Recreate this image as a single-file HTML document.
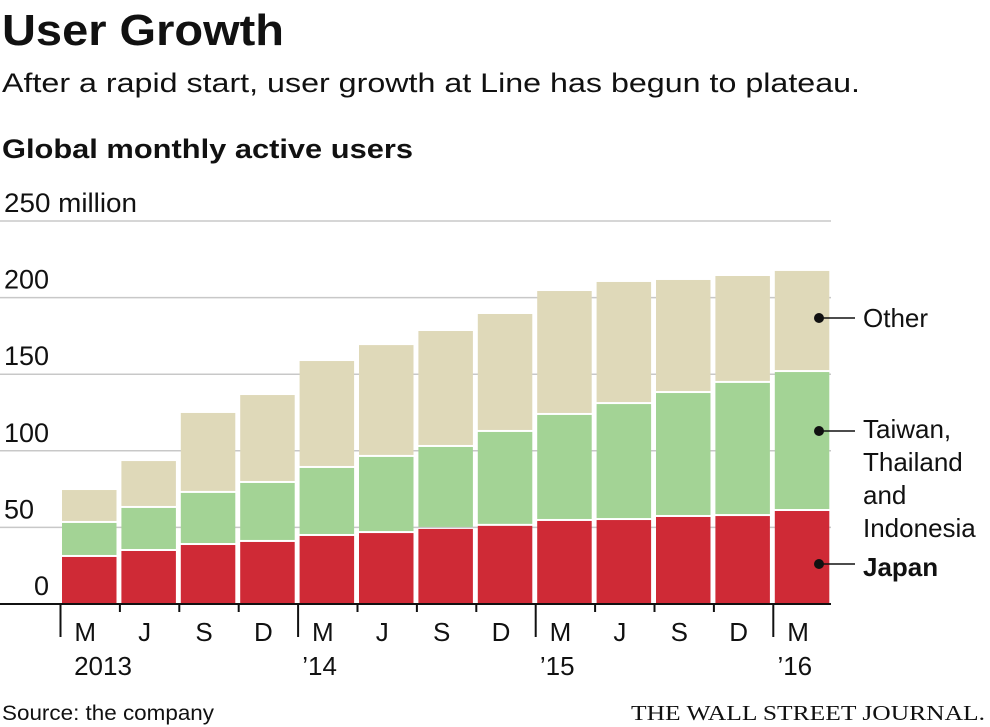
<!DOCTYPE html>
<html><head><meta charset="utf-8"><style>
html,body{margin:0;padding:0;background:#fff;}
svg{display:block;font-family:"Liberation Sans",sans-serif;}
</style></head><body>
<svg width="990" height="727" viewBox="0 0 990 727">
<text x="2" y="45" font-size="44" font-weight="bold" textLength="282" lengthAdjust="spacingAndGlyphs" fill="#111">User Growth</text>
<text x="2" y="92" font-size="27" textLength="858" lengthAdjust="spacingAndGlyphs" fill="#111">After a rapid start, user growth at Line has begun to plateau.</text>
<text x="2" y="158" font-size="27" font-weight="bold" textLength="411" lengthAdjust="spacingAndGlyphs" fill="#111">Global monthly active users</text>
<g id="grid"></g>
<g id="bars"></g>
<g id="axis"></g>
<g id="legend"></g>
<text x="2" y="720" font-size="21" fill="#111" textLength="212" lengthAdjust="spacingAndGlyphs">Source: the company</text>
<text x="985" y="720" font-size="21" text-anchor="end" font-family="Liberation Serif,serif" textLength="354" lengthAdjust="spacingAndGlyphs" fill="#111">THE WALL STREET JOURNAL.</text>
</svg>
<script>
const categories = ["M","J","S","D","M","J","S","D","M","J","S","D","M"];
const yearLabels = ["2013","","","","’14","","","","’15","","","","’16"];
const japan = [30.7,34.6,38.5,40.5,44.4,46.3,49,51,54.2,54.8,56.8,57.4,60.7];
const taiwanThaiIndo = [22.2,28.1,34,38.5,44.4,49.7,53.5,61.3,69.2,75.7,80.9,86.9,90.7];
const other = [21.5,30.6,52.2,57.4,69.8,73,75.7,77,80.9,79.7,73.8,69.8,66];
const yTicks = [0,50,100,150,200,250];
const tickLabels = ["0","50","100","150","200","250 million"];

const NS="http://www.w3.org/2000/svg";
const y0=604, pxPer=1.532, x0=62, slot=59.4, bw=54.5;
const yScale=v=>y0-v*pxPer;
const xScale=i=>x0+i*slot;
function mk(tag,attrs,parent,txt){const e=document.createElementNS(NS,tag);for(const k in attrs)e.setAttribute(k,attrs[k]);if(txt!==undefined)e.textContent=txt;parent.appendChild(e);return e;}
const grid=document.getElementById('grid'),bars=document.getElementById('bars'),axis=document.getElementById('axis'),legend=document.getElementById('legend');

yTicks.forEach((t,i)=>{
  if(t>0){const l=mk('line',{x1:0,x2:831,y1:yScale(t),y2:yScale(t),stroke:'#c8c8c8','stroke-width':1.5},grid);
  
  }
  const tx=mk('text',{x:4,y:yScale(t)-9,'font-size':27,fill:'#111'},grid,tickLabels[i]);
  if(t===250){tx.setAttribute('textLength',133);tx.setAttribute('lengthAdjust','spacingAndGlyphs');}
  if(t===0){tx.setAttribute('x',49);tx.setAttribute('text-anchor','end');}
  
  
});

const colors=['#cf2a36','#a3d395','#dfd9b9'];
categories.forEach((c,i)=>{
  const vals=[japan[i],taiwanThaiIndo[i],other[i]];
  const names=['japan','taiwan-thailand-indonesia','other'];
  let base=0;
  vals.forEach((v,k)=>{
    const top=yScale(base+v), bot=yScale(base);
    const r=mk('rect',{x:xScale(i),y:top,width:bw,height:Math.max(0,bot-top-(k>0?2:0)),fill:colors[k]},bars);
    
    
    base+=v;
  });
  const major=yearLabels[i]!=="";
  const tk=mk('line',{x1:xScale(i)-1.5,x2:xScale(i)-1.5,y1:y0,y2:major?637:612,stroke:'#111','stroke-width':2},axis);
  
  
  const lb=mk('text',{x:xScale(i)+bw/2-4,y:641,'font-size':26,'text-anchor':'middle',fill:'#111'},axis,c);
  
  
  if(major){const yl=mk('text',{x:xScale(i)+(i===0?41:20),y:675,'font-size':26,'text-anchor':'middle',fill:'#111'},axis,yearLabels[i]);
  
  }
});
const ax=mk('line',{x1:0,x2:831,y1:y0,y2:y0,stroke:'#111','stroke-width':2},axis);



const legendItems=[{y:318,lines:["Other"],bold:false,name:'other'},{y:431,lines:["Taiwan,","Thailand","and","Indonesia"],bold:false,name:'taiwan-thailand-indonesia',ty:429},{y:564,lines:["Japan"],bold:true,name:'japan',ty:567}];
legendItems.forEach(it=>{
  const g=mk('g',{},legend);
  
  
  mk('circle',{cx:819,cy:it.y,r:5,fill:'#111'},g);
  mk('line',{x1:819,x2:855,y1:it.y,y2:it.y,stroke:'#111','stroke-width':1.5},g);
  const sy=(it.ty||it.y)+9;
  it.lines.forEach((s,j)=>{mk('text',{x:863,y:sy+j*33,'font-size':26,'font-weight':it.bold?'bold':'normal',fill:'#111'},g,s);});
});
</script>
</body></html>
